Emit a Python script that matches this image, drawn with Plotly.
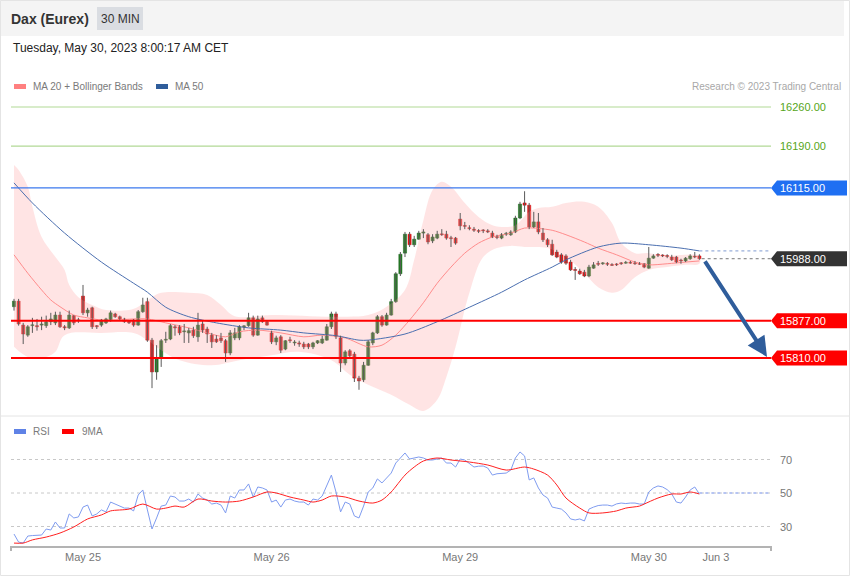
import plotly.graph_objects as go

W, H = 850, 576

# ---------------- data ----------------
candle_index = list(range(150))
opens = [15902, 15912, 15869, 15851, 15868, 15868, 15869, 15868, 15875, 15873,
         15887, 15866, 15864, 15886, 15878, 15921, 15891, 15900, 15868, 15869,
         15873, 15877, 15889, 15884, 15880, 15877, 15878, 15869, 15893, 15911,
         15842, 15785, 15810, 15842, 15844, 15866, 15866, 15857, 15855, 15860,
         15848, 15871, 15862, 15851, 15844, 15846, 15841, 15819, 15846, 15846,
         15866, 15868, 15882, 15851, 15882, 15875, 15855, 15839, 15848, 15826,
         15842, 15837, 15837, 15835, 15835, 15830, 15837, 15837, 15842, 15866,
         15889, 15846, 15801, 15823, 15817, 15774, 15771, 15797, 15837, 15855,
         15884, 15869, 15887, 15911, 15961, 15998, 16032, 16013, 16023, 16034,
         16031, 16020, 16025, 16032, 16032, 16025, 16025, 16059, 16047, 16043,
         16041, 16038, 16038, 16038, 16034, 16027, 16025, 16032, 16031, 16036,
         16061, 16088, 16084, 16045, 16054, 16034, 16022, 16014, 16000, 15995,
         15993, 15982, 15968, 15966, 15964, 15957, 15971, 15979, 15979, 15979,
         15977, 15977, 15979, 15980, 15980, 15980, 15979, 15979, 15971, 15989,
         15995, 15993, 15993, 15991, 15991, 15984, 15984, 15988, 15991, 15993]
closes = [15912, 15871, 15853, 15866, 15869, 15866, 15871, 15875, 15880, 15887,
          15866, 15864, 15887, 15873, 15877, 15891, 15896, 15866, 15866, 15878,
          15880, 15891, 15884, 15880, 15875, 15873, 15869, 15893, 15905, 15842,
          15785, 15810, 15841, 15843, 15868, 15864, 15855, 15858, 15859, 15850,
          15869, 15860, 15853, 15839, 15839, 15841, 15819, 15855, 15855, 15866,
          15867, 15882, 15851, 15880, 15875, 15869, 15839, 15846, 15824, 15841,
          15841, 15838, 15835, 15830, 15830, 15837, 15841, 15844, 15866, 15889,
          15848, 15801, 15821, 15814, 15774, 15769, 15797, 15839, 15855, 15884,
          15869, 15887, 15911, 15961, 15996, 16032, 16013, 16023, 16034, 16036,
          16018, 16027, 16032, 16031, 16025, 16024, 16016, 16047, 16046, 16042,
          16039, 16037, 16038, 16036, 16027, 16026, 16031, 16033, 16036, 16061,
          16086, 16084, 16045, 16054, 16036, 16022, 16013, 15995, 15991, 15982,
          15980, 15968, 15967, 15961, 15957, 15973, 15977, 15978, 15980, 15978,
          15976, 15977, 15979, 15981, 15980, 15979, 15978, 15973, 15989, 15993,
          15994, 15993, 15992, 15986, 15982, 15984, 15989, 15993, 15991, 15988]
highs = [15916, 15916, 15873, 15869, 15882, 15880, 15884, 15886, 15891, 15893,
         15893, 15869, 15895, 15887, 15882, 15941, 15900, 15902, 15869, 15880,
         15882, 15895, 15891, 15886, 15882, 15878, 15880, 15896, 15918, 15918,
         15846, 15833, 15844, 15857, 15871, 15869, 15869, 15871, 15864, 15866,
         15891, 15878, 15866, 15855, 15851, 15855, 15844, 15860, 15864, 15869,
         15869, 15891, 15886, 15886, 15886, 15877, 15859, 15850, 15851, 15842,
         15848, 15842, 15841, 15839, 15837, 15839, 15842, 15850, 15871, 15893,
         15893, 15850, 15824, 15826, 15821, 15778, 15803, 15842, 15857, 15887,
         15887, 15891, 15916, 15964, 16000, 16036, 16036, 16029, 16038, 16041,
         16034, 16032, 16038, 16041, 16038, 16029, 16027, 16070, 16054, 16048,
         16045, 16041, 16041, 16041, 16038, 16031, 16034, 16036, 16039, 16065,
         16090, 16109, 16088, 16072, 16070, 16043, 16025, 16022, 16004, 15998,
         15996, 15986, 15973, 15970, 15968, 15977, 15982, 15984, 15982, 15982,
         15980, 15980, 15982, 15984, 15984, 15984, 15982, 15980, 16009, 15996,
         15998, 15996, 15996, 15995, 15993, 15988, 15991, 15996, 16000, 15996]
lows = [15895, 15868, 15835, 15848, 15855, 15859, 15860, 15864, 15869, 15869,
        15864, 15860, 15862, 15869, 15873, 15887, 15884, 15862, 15862, 15866,
        15871, 15875, 15882, 15878, 15873, 15871, 15866, 15868, 15891, 15839,
        15756, 15771, 15794, 15837, 15842, 15850, 15851, 15837, 15837, 15846,
        15839, 15855, 15837, 15828, 15837, 15837, 15803, 15815, 15842, 15842,
        15860, 15866, 15848, 15850, 15873, 15868, 15835, 15833, 15819, 15824,
        15837, 15832, 15830, 15826, 15826, 15826, 15835, 15835, 15841, 15862,
        15844, 15785, 15797, 15810, 15767, 15753, 15767, 15796, 15833, 15853,
        15866, 15868, 15886, 15909, 15957, 15991, 16009, 16009, 16022, 16025,
        16014, 16016, 16023, 16029, 16022, 16009, 16013, 16039, 16041, 16039,
        16036, 16034, 16034, 16034, 16025, 16023, 16023, 16029, 16029, 16034,
        16059, 16072, 16041, 16043, 16032, 16018, 16009, 15993, 15989, 15979,
        15977, 15966, 15950, 15959, 15955, 15955, 15970, 15975, 15977, 15975,
        15975, 15975, 15977, 15979, 15979, 15977, 15977, 15971, 15970, 15988,
        15991, 15991, 15989, 15984, 15980, 15979, 15982, 15986, 15989, 15986]

ma20_idx = [0, 3, 6, 8, 10, 13, 16, 19, 22, 26, 29, 33, 38, 42, 46, 49, 53, 58, 63, 67,
            72, 77, 80, 83, 86, 89, 92, 95, 98, 101, 104, 108, 111, 113, 117, 120, 124,
            127, 131, 135, 138, 142, 146, 149]
ma20_val = [15995, 15962, 15932, 15914, 15902, 15887, 15882, 15878, 15878, 15880,
            15880, 15873, 15864, 15855, 15848, 15857, 15860, 15855, 15848, 15851,
            15846, 15830, 15833, 15851, 15878, 15909, 15944, 15973, 15998, 16016,
            16027, 16034, 16043, 16043, 16039, 16031, 16018, 16007, 15995, 15982,
            15977, 15979, 15982, 15984]

bb_up_idx = [0, 1, 3, 4, 6, 9, 11, 12, 14, 17, 20, 25, 27, 30, 32, 38, 42, 45, 48, 56,
             70, 77, 81, 85, 87, 89, 91, 93, 95, 98, 101, 104, 106, 109, 112, 114, 117,
             120, 124, 127, 130, 132, 135, 138, 142, 146, 149]
bb_up_val = [16156, 16147, 16117, 16081, 16027, 15991, 15968, 15941, 15919, 15905,
             15896, 15896, 15902, 15919, 15927, 15927, 15923, 15905, 15885, 15887,
             15884, 15887, 15902, 15932, 15986, 16057, 16111, 16126, 16117, 16088,
             16063, 16048, 16045, 16048, 16072, 16079, 16081, 16088, 16090, 16081,
             16052, 16016, 15998, 15998, 15993, 15995, 15993]
bb_lo_idx = [0, 3, 7, 9, 11, 19, 26, 29, 32, 36, 43, 49, 56, 62, 69, 73, 77, 82, 86, 89,
             92, 94, 96, 99, 102, 105, 108, 111, 116, 120, 124, 127, 130, 132, 135, 138,
             142, 146, 149]
bb_lo_val = [15830, 15812, 15812, 15821, 15851, 15855, 15855, 15842, 15824, 15806,
             15797, 15806, 15815, 15821, 15806, 15780, 15762, 15744, 15726, 15715,
             15735, 15776, 15830, 15927, 15991, 16007, 16011, 16009, 16007, 15991,
             15962, 15937, 15927, 15932, 15955, 15968, 15973, 15977, 15979]

ma50_idx = [0, 4, 11, 19, 26, 29, 33, 38, 44, 51, 58, 63, 70, 75, 77, 85, 92, 99, 106,
            111, 117, 120, 127, 132, 138, 145, 149]
ma50_val = [16124, 16088, 16034, 15982, 15944, 15928, 15901, 15884, 15873, 15864,
            15860, 15855, 15850, 15842, 15842, 15853, 15875, 15901, 15928, 15950,
            15973, 15986, 16009, 16016, 16013, 16007, 16002]

rsi_idx = list(range(150))
rsi_val = [25.5, 20.7, 20.1, 24.3, 24.6, 24.8, 24.9, 28.5, 27.9, 32.7,
           29.1, 29.1, 37.5, 35.1, 35.7, 41.6, 42.8, 36.3, 37.5, 39.9,
           38.7, 44.6, 43.4, 42.2, 41.0, 41.0, 39.3, 48.8, 51.8, 39.9,
           28.5, 35.1, 42.2, 42.8, 48.2, 47.6, 45.2, 45.2, 46.4, 44.6,
           49.4, 47.0, 45.8, 43.4, 44.0, 42.8, 38.1, 48.2, 47.0, 51.8,
           51.8, 55.4, 47.6, 53.6, 53.0, 51.8, 44.6, 45.8, 41.6, 45.8,
           46.4, 45.2, 44.6, 44.6, 42.8, 46.4, 45.8, 48.2, 54.8, 60.7,
           50.6, 38.7, 44.6, 43.4, 36.3, 35.1, 42.2, 50.6, 53.0, 58.4,
           56.0, 59.0, 61.9, 67.9, 70.9, 73.9, 70.3, 70.9, 71.5, 70.9,
           69.7, 69.7, 70.5, 70.9, 67.9, 67.9, 65.5, 70.3, 69.7, 67.5,
           65.5, 66.0, 66.1, 64.9, 60.7, 61.5, 61.9, 61.9, 63.7, 70.9,
           74.5, 72.1, 57.8, 59.0, 53.0, 48.8, 47.0, 41.6, 41.0, 40.4,
           38.1, 34.5, 33.9, 34.5, 33.3, 40.4, 41.6, 42.5, 42.8, 42.8,
           42.2, 43.5, 44.0, 43.7, 44.0, 44.0, 43.4, 43.4, 50.6, 53.0,
           54.2, 53.6, 52.0, 49.4, 44.6, 44.0, 47.6, 51.8, 53.6, 49.4]

rsi_ma_idx = [0, 2, 4, 7, 10, 13, 16, 19, 21, 25, 28, 31, 33, 35, 37, 40, 43, 46, 49,
              52, 55, 57, 60, 63, 65, 67, 69, 72, 75, 78, 80, 82, 85, 87, 89, 92, 95,
              99, 103, 107, 111, 113, 116, 118, 120, 123, 125, 128, 131, 133, 136, 137,
              140, 143, 145, 147, 149]
rsi_ma_val = [20.1, 20.1, 22.0, 23.7, 26.1, 29.7, 34.5, 36.9, 39.3, 40.4, 43.4, 40.4,
              41.0, 42.2, 41.6, 46.4, 45.2, 44.6, 45.2, 47.6, 50.6, 50.0, 47.6, 45.8,
              44.6, 45.8, 48.2, 47.6, 45.2, 44.0, 45.8, 50.6, 60.7, 65.5, 69.1, 70.9,
              69.7, 68.5, 66.7, 63.7, 65.5, 64.3, 60.7, 54.8, 47.0, 41.0, 38.1, 38.1,
              39.3, 41.0, 42.2, 43.4, 47.0, 49.4, 49.4, 50.6, 49.4]

resistance_levels = [16260, 16190]
pivot_level = 16115
support_levels = [15877, 15810]
last_price = 15988
rsi_levels = [70, 50, 30]
tick_idx = [15, 56, 97, 138, 152.6]
tick_text = ["May 25", "May 26", "May 29", "May 30", "Jun 3"]
target_from = (150, 15986)
target_to = (163.7, 15812)

title_text = "Dax (Eurex)"
interval_text = "30 MIN"
date_text = "Tuesday, May 30, 2023 8:00:17 AM CET"
credit_text = "Research © 2023 Trading Central"

# ---------------- geometry ----------------
FONT = "Liberation Sans, Arial, sans-serif"
X_RANGE = [-0.652, 164.57]
X_DOM = [11 / W, 771 / W]
Y_TOP_PX, Y_BOT_PX = 60, 415
Y_RANGE = [15707.8, 16344.3]
R_TOP_PX, R_BOT_PX = 440, 546
R_RANGE = [18.36, 81.64]
PPP = (Y_RANGE[1] - Y_RANGE[0]) / (Y_BOT_PX - Y_TOP_PX)  # price per pixel


def px(x):
    return x / W


def py(y):
    return 1 - y / H


fig = go.Figure()

# Bollinger band
fig.add_trace(go.Scatter(
    x=bb_up_idx + bb_lo_idx[::-1], y=bb_up_val + bb_lo_val[::-1],
    fill="toself", fillcolor="rgba(255,170,170,0.32)", line=dict(width=0),
    mode="lines", line_shape="spline", hoverinfo="skip", xaxis="x", yaxis="y"))
fig.add_trace(go.Scatter(x=ma20_idx, y=ma20_val, mode="lines",
                         line=dict(color="#ff8c8c", width=1, shape="spline", smoothing=0.8),
                         xaxis="x", yaxis="y"))
fig.add_trace(go.Scatter(x=ma50_idx, y=ma50_val, mode="lines",
                         line=dict(color="#4b6fb0", width=1, shape="spline", smoothing=0.8),
                         xaxis="x", yaxis="y"))

# candles: wicks (high-low) then bodies (open-close)
wick_x, wick_y = [], []
for i, hi, lo in zip(candle_index, highs, lows):
    wick_x += [i, i, None]
    wick_y += [lo, hi, None]
fig.add_trace(go.Scatter(x=wick_x, y=wick_y, mode="lines",
                         line=dict(color="#5a5a5a", width=1), xaxis="x", yaxis="y"))
body_base = [min(o, c) for o, c in zip(opens, closes)]
body_size = [max(abs(c - o), 1.6) for o, c in zip(opens, closes)]
body_col = ["#1f7f1f" if c > o else "#ee1414" for o, c in zip(opens, closes)]
body_line = ["#195f19" if c > o else "#c01010" for o, c in zip(opens, closes)]
fig.add_trace(go.Bar(x=candle_index, y=body_size, base=body_base, width=0.68,
                     marker=dict(color=body_col, line=dict(color=body_line, width=0.5)),
                     xaxis="x", yaxis="y"))

# RSI
fig.add_trace(go.Scatter(x=rsi_idx, y=rsi_val, mode="lines",
                         line=dict(color="#7f9cf0", width=1), xaxis="x", yaxis="y2"))
fig.add_trace(go.Scatter(x=rsi_ma_idx, y=rsi_ma_val, mode="lines",
                         line=dict(color="#ff2020", width=1, shape="spline", smoothing=0.8),
                         xaxis="x", yaxis="y2"))

shapes = []
# header band, border, separator
shapes.append(dict(type="rect", xref="paper", yref="paper", x0=px(0), x1=px(844),
                   y0=py(36), y1=py(0), fillcolor="#f4f4f4", line=dict(width=0), layer="below"))
shapes.append(dict(type="rect", xref="paper", yref="paper", x0=px(97), x1=px(143),
                   y0=py(30), y1=py(7), fillcolor="#dadde2", line=dict(width=0), layer="below"))
shapes.append(dict(type="rect", xref="paper", yref="paper", x0=px(0.5), x1=px(849.5),
                   y0=py(575.5), y1=py(0.5), line=dict(color="#e4e4e4", width=1)))
shapes.append(dict(type="line", xref="paper", yref="paper", x0=0, x1=1,
                   y0=py(416), y1=py(416), line=dict(color="#e4e4e4", width=1)))

# level lines
for lv in resistance_levels:
    shapes.append(dict(type="line", xref="x domain", yref="y", x0=0, x1=1, y0=lv, y1=lv,
                       line=dict(color="#b2d996", width=1.2)))
shapes.append(dict(type="line", xref="x domain", yref="y", x0=0, x1=1, y0=pivot_level,
                   y1=pivot_level, line=dict(color="#3b78ee", width=1.3)))
for lv in support_levels:
    shapes.append(dict(type="line", xref="x domain", yref="y", x0=0, x1=1, y0=lv, y1=lv,
                       line=dict(color="#ff0000", width=2)))
# dotted extensions
shapes.append(dict(type="line", xref="x", yref="y", x0=candle_index[-1] + 0.5, x1=X_RANGE[1],
                   y0=last_price, y1=last_price, line=dict(color="#777777", width=1, dash="dot")))
shapes.append(dict(type="line", xref="x", yref="y", x0=ma50_idx[-1], x1=X_RANGE[1],
                   y0=ma50_val[-1], y1=ma50_val[-1], line=dict(color="#7f9ad0", width=1, dash="dot")))
shapes.append(dict(type="line", xref="x", yref="y2", x0=rsi_idx[-1], x1=X_RANGE[1],
                   y0=50, y1=50, line=dict(color="#b7c5f2", width=2, dash="dot")))

# RSI grid
for lv in rsi_levels:
    shapes.append(dict(type="line", xref="x domain", yref="y2", x0=0, x1=1, y0=lv, y1=lv,
                       line=dict(color="#c8c8c8", width=1, dash="dot"), layer="below"))
# axis end ticks
for xd in (0, 1):
    shapes.append(dict(type="line", xref="x domain", yref="paper", x0=xd, x1=xd,
                       y0=py(546), y1=py(551), line=dict(color="#b3b3b3", width=2)))

# legend swatches
for (x0, y0, col) in [(14, 86.5, "#ff8080"), (156, 86.5, "#2f5d9b"),
                      (14, 431.5, "#5f82e6"), (62, 431.5, "#ff0000")]:
    shapes.append(dict(type="rect", xref="paper", yref="paper", x0=px(x0), x1=px(x0 + 12),
                       y0=py(y0 + 2.5), y1=py(y0 - 2.5), fillcolor=col, line=dict(width=0)))

annotations = []


def price_tag(level, color):
    hh = 7.5 * PPP
    path = (f"M {px(771)},{level} L {px(777)},{level + hh} L {px(847)},{level + hh} "
            f"L {px(847)},{level - hh} L {px(777)},{level - hh} Z")
    shapes.append(dict(type="path", xref="paper", yref="y", path=path,
                       fillcolor=color, line=dict(width=0)))
    annotations.append(dict(xref="paper", yref="y", x=px(778), y=level, text=f"{level:.2f}",
                            showarrow=False, xanchor="left", yanchor="middle",
                            font=dict(color="white", size=11, family=FONT)))


for lv in resistance_levels:
    annotations.append(dict(xref="paper", yref="y", x=px(778), y=lv, text=f"{lv:.2f}",
                            showarrow=False, xanchor="left", yanchor="middle",
                            font=dict(color="#56a51a", size=11, family=FONT)))
price_tag(pivot_level, "#1f6ff2")
price_tag(last_price, "#333333")
for lv in support_levels:
    price_tag(lv, "#ff0000")

for lv in rsi_levels:
    annotations.append(dict(xref="paper", yref="y2", x=px(778), y=lv, text=str(lv),
                            showarrow=False, xanchor="left", yanchor="middle",
                            font=dict(color="#777777", size=11, family=FONT)))


def text(x, y, s, size, color, anchor="left", bold=False):
    annotations.append(dict(xref="paper", yref="paper", x=px(x), y=py(y),
                            text=f"<b>{s}</b>" if bold else s, showarrow=False,
                            xanchor=anchor, yanchor="middle",
                            font=dict(color=color, size=size, family=FONT)))


text(9, 18.5, title_text, 14, "#333333", bold=True)
text(120, 18.5, interval_text, 12, "#333333", anchor="center")
text(11, 48.5, date_text, 12, "#222222")
text(31, 86.5, "MA 20 + Bollinger Bands", 10, "#7a7a7a")
text(173, 86.5, "MA 50", 10, "#7a7a7a")
text(843, 86.5, credit_text, 10, "#a8a8a8", anchor="right")
text(31, 431.5, "RSI", 10, "#7a7a7a")
text(80, 431.5, "9MA", 10, "#7a7a7a")

# target arrow
annotations.append(dict(x=target_to[0], y=target_to[1], ax=target_from[0], ay=target_from[1],
                        xref="x", yref="y", axref="x", ayref="y", text="", showarrow=True,
                        arrowhead=2, arrowsize=1, arrowwidth=4, arrowcolor="#2f5d9b"))

fig.update_layout(
    template="none",
    width=W, height=H,
    margin=dict(l=0, r=0, t=0, b=0),
    paper_bgcolor="white", plot_bgcolor="rgba(0,0,0,0)",
    showlegend=False, hovermode=False,
    font=dict(family=FONT, size=11, color="#666666"),
    xaxis=dict(domain=X_DOM, range=X_RANGE, anchor="y2", showgrid=False, zeroline=False,
               showline=True, linecolor="#b3b3b3", linewidth=2, ticks="",
               tickvals=tick_idx, ticktext=tick_text,
               tickfont=dict(size=11, color="#777777", family=FONT),
               automargin=False, fixedrange=True),
    yaxis=dict(domain=[py(Y_BOT_PX), py(Y_TOP_PX)], range=Y_RANGE, visible=False,
               showgrid=False, zeroline=False, automargin=False, fixedrange=True),
    yaxis2=dict(domain=[py(R_BOT_PX), py(R_TOP_PX)], range=R_RANGE, visible=False,
                showgrid=False, zeroline=False, automargin=False, fixedrange=True),
    shapes=shapes,
    annotations=annotations,
)

fig.write_html("out.html", config=dict(displayModeBar=False),
               post_script="document.body.style.margin='0';document.body.style.overflow='hidden';")
